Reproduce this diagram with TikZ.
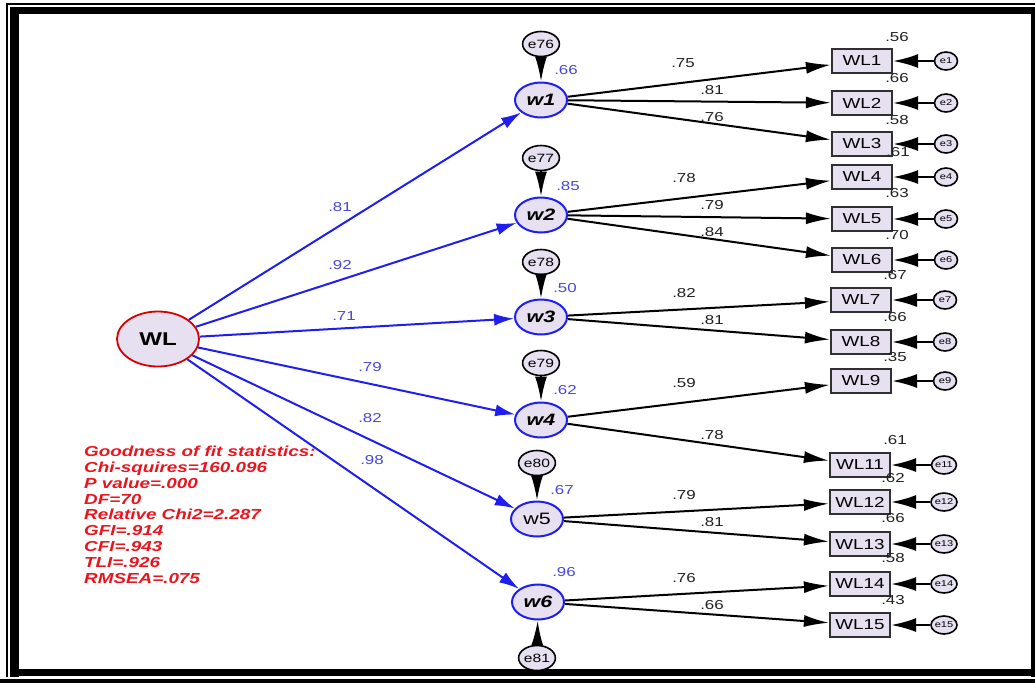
\documentclass[tikz,border=0pt]{standalone}
\usepackage{fontspec}
\setmainfont{Liberation Sans}[FakeStretch=1.3]
\usepackage{tikz}
\usetikzlibrary{arrows.meta, shapes.geometric}

\definecolor{fillc}{HTML}{E6E0F0}
\definecolor{boxc}{HTML}{303030}
\definecolor{bluel}{HTML}{1E1EF0}
\definecolor{bluet}{HTML}{4848D8}
\definecolor{redt}{HTML}{E8141E}
\definecolor{ink}{HTML}{202020}

\begin{document}
\begin{tikzpicture}[x=1pt, y=-1pt,
		lat/.style={ellipse, draw=bluel, line width=2pt, fill=fillc, minimum width=52pt, minimum height=35pt, inner sep=0pt, font=\fontsize{16.5}{16.5}\selectfont\bfseries\itshape},
		err/.style={ellipse, draw=black, line width=1.6pt, fill=fillc, minimum width=35pt, minimum height=25pt, inner sep=0pt, font=\fontsize{12}{12}\selectfont},
		res/.style={ellipse, draw=black, line width=1.6pt, fill=fillc, minimum width=23pt, minimum height=18pt, inner sep=0pt, font=\fontsize{8.5}{8.5}\selectfont},
		obs/.style={rectangle, draw=boxc, line width=2.2pt, fill=fillc, minimum width=60pt, minimum height=24pt, inner sep=0pt, font=\fontsize{14.5}{14.5}\selectfont},
		wt/.style={text=ink, inner sep=0pt, font=\fontsize{13}{13}\selectfont},
		bwt/.style={text=bluet, inner sep=0pt, font=\fontsize{13}{13}\selectfont},
		load/.style={draw=black, line width=2pt, -{Latex[length=25pt, width=12pt]}},
		path2/.style={draw=bluel, line width=2pt, -{Latex[length=20pt, width=12pt]}},
		erra/.style={draw=black, line width=2pt, -{Latex[length=25pt, width=14pt]}}]
		\useasboundingbox (0,0) rectangle (1035,683);

		% frame
		\fill (10,7) rectangle (1035,14);
		\fill (10,7) rectangle (19,677);
		\fill (1031,7) rectangle (1035,677);
		\fill (10,669) rectangle (1035,676);
		\fill (0,679) rectangle (1035,683);
		\draw[line width=2pt] (7,677) -- (7,4) -- (1035,4);

		% second order factor
		\node[ellipse, draw=red!85!black, line width=1.8pt, fill=fillc, minimum width=82pt, minimum height=55pt, font=\fontsize{18.5}{18.5}\selectfont\bfseries] (WL) at (158,339) {WL};

		% first order factors
		\node[lat] (w1) at (541,100) {w1};
		\node[lat] (w2) at (541,215) {w2};
		\node[lat] (w3) at (541,317) {w3};
		\node[lat] (w4) at (541,420) {w4};
		\node[lat, font=\fontsize{16.5}{16.5}\selectfont] (w5) at (537,519) {w5};
		\node[lat] (w6) at (538,602) {w6};

		\node[err] (e76) at (541,44) {e76};
		\node[err] (e77) at (541,158) {e77};
		\node[err] (e78) at (541,262) {e78};
		\node[err] (e79) at (541,363) {e79};
		\node[err] (e80) at (537,463) {e80};
		\node[err] (e81) at (537,658) {e81};

		% items
		\node[obs] (WL1) at (862,61) {WL1};
		\node[obs] (WL2) at (862,103) {WL2};
		\node[obs] (WL3) at (862,144) {WL3};
		\node[obs] (WL4) at (862,177) {WL4};
		\node[obs] (WL5) at (862,219) {WL5};
		\node[obs] (WL6) at (862,260) {WL6};
		\node[obs] (WL7) at (861,300) {WL7};
		\node[obs] (WL8) at (861,342) {WL8};
		\node[obs] (WL9) at (861,381) {WL9};
		\node[obs] (WL11) at (860,465) {WL11};
		\node[obs] (WL12) at (860,502) {WL12};
		\node[obs] (WL13) at (860,544) {WL13};
		\node[obs] (WL14) at (860,584) {WL14};
		\node[obs] (WL15) at (860,625) {WL15};

		\node[res] (e1) at (946,61) {e1};
		\node[res] (e2) at (946,103) {e2};
		\node[res] (e3) at (946,144) {e3};
		\node[res] (e4) at (946,177) {e4};
		\node[res] (e5) at (946,219) {e5};
		\node[res] (e6) at (946,260) {e6};
		\node[res] (e7) at (945,300) {e7};
		\node[res] (e8) at (945,342) {e8};
		\node[res] (e9) at (945,381) {e9};
		\node[res] (e11) at (944,465) {e11};
		\node[res] (e12) at (944,502) {e12};
		\node[res] (e13) at (944,544) {e13};
		\node[res] (e14) at (944,584) {e14};
		\node[res] (e15) at (944,625) {e15};

		% paths
		\draw[path2] (WL) -- (w1);
		\draw[path2] (WL) -- (w2);
		\draw[path2] (WL) -- (w3);
		\draw[path2] (WL) -- (w4);
		\draw[path2] (WL) -- (w5);
		\draw[path2] (WL) -- (w6);

		\draw[load] (e76) -- (w1);
		\draw[load] (e77) -- (w2);
		\draw[load] (e78) -- (w3);
		\draw[load] (e79) -- (w4);
		\draw[load] (e80) -- (w5);
		\draw[load] (e81) -- (w6);

		\draw[load] (w1) -- (WL1);
		\draw[load] (w1) -- (WL2);
		\draw[load] (w1) -- (WL3);
		\draw[load] (w2) -- (WL4);
		\draw[load] (w2) -- (WL5);
		\draw[load] (w2) -- (WL6);
		\draw[load] (w3) -- (WL7);
		\draw[load] (w3) -- (WL8);
		\draw[load] (w4) -- (WL9);
		\draw[load] (w4) -- (WL11);
		\draw[load] (w5) -- (WL12);
		\draw[load] (w5) -- (WL13);
		\draw[load] (w6) -- (WL14);
		\draw[load] (w6) -- (WL15);

		\draw[erra] (e1) -- (WL1);
		\draw[erra] (e2) -- (WL2);
		\draw[erra] (e3) -- (WL3);
		\draw[erra] (e4) -- (WL4);
		\draw[erra] (e5) -- (WL5);
		\draw[erra] (e6) -- (WL6);
		\draw[erra] (e7) -- (WL7);
		\draw[erra] (e8) -- (WL8);
		\draw[erra] (e9) -- (WL9);
		\draw[erra] (e11) -- (WL11);
		\draw[erra] (e12) -- (WL12);
		\draw[erra] (e13) -- (WL13);
		\draw[erra] (e14) -- (WL14);
		\draw[erra] (e15) -- (WL15);

		% estimates
		\node[bwt] (b1) at (340,207) {.81};
		\node[bwt] (b2) at (340,265) {.92};
		\node[bwt] (b3) at (344,316) {.71};
		\node[bwt] (b4) at (370,367) {.79};
		\node[bwt] (b5) at (370,418) {.82};
		\node[bwt] (b6) at (372,460) {.98};

		\node[bwt] (r1) at (566,70) {.66};
		\node[bwt] (r2) at (568,186) {.85};
		\node[bwt] (r3) at (565,288) {.50};
		\node[bwt] (r4) at (565,390) {.62};
		\node[bwt] (r5) at (562,490) {.67};
		\node[bwt] (r6) at (564,572) {.96};

		\node[wt] (k1) at (683,63) {.75};
		\node[wt] (k2) at (712,90) {.81};
		\node[wt] (k3) at (712,117) {.76};
		\node[wt] (k4) at (684,178) {.78};
		\node[wt] (k5) at (712,205) {.79};
		\node[wt] (k6) at (712,232) {.84};
		\node[wt] (k7) at (684,293) {.82};
		\node[wt] (k8) at (712,320) {.81};
		\node[wt] (k9) at (684,383) {.59};
		\node[wt] (k11) at (712,435) {.78};
		\node[wt] (k12) at (684,495) {.79};
		\node[wt] (k13) at (712,522) {.81};
		\node[wt] (k14) at (684,578) {.76};
		\node[wt] (k15) at (712,605) {.66};

		\node[wt] (s1) at (897,37) {.56};
		\node[wt] (s2) at (897,78) {.66};
		\node[wt] (s3) at (897,120) {.58};
		\node[wt] (s4) at (898,152) {.61};
		\node[wt] (s5) at (897,193) {.63};
		\node[wt] (s6) at (897,235) {.70};
		\node[wt] (s7) at (895,275) {.67};
		\node[wt] (s8) at (895,317) {.66};
		\node[wt] (s9) at (895,357) {.35};
		\node[wt] (s11) at (895,440) {.61};
		\node[wt] (s12) at (893,478) {.62};
		\node[wt] (s13) at (893,518) {.66};
		\node[wt] (s14) at (893,558) {.58};
		\node[wt] (s15) at (893,600) {.43};

		% fit
		\node[anchor=north west, align=left, inner sep=0pt, text=redt, font=\fontsize{14.5}{15.8}\selectfont\bfseries\itshape] (fit) at (84,446) {Goodness of fit statistics:\\Chi-squires=160.096\\P value=.000\\DF=70\\Relative Chi2=2.287\\GFI=.914\\CFI=.943\\TLI=.926\\RMSEA=.075};

	\end{tikzpicture}
\end{document}
